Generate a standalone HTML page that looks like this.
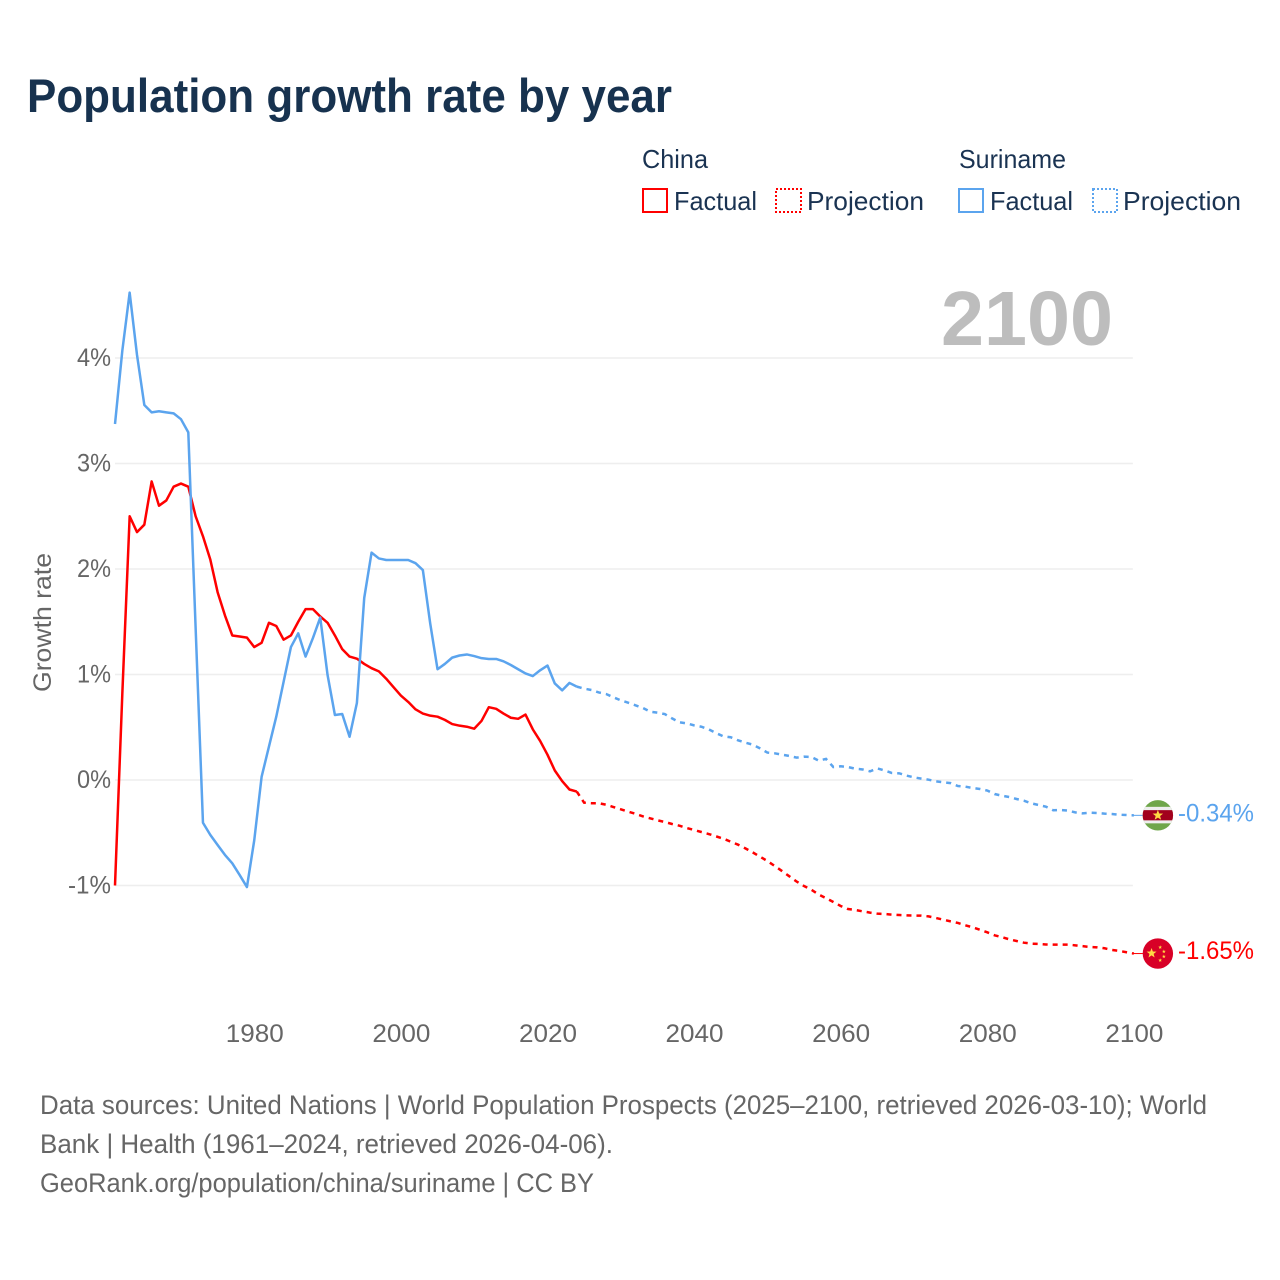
<!DOCTYPE html>
<html lang="en">
<head>
<meta charset="utf-8">
<title>Population growth rate by year</title>
<style>
html,body{margin:0;padding:0;background:#fff;width:1280px;height:1280px;overflow:hidden}
svg{display:block;font-family:"Liberation Sans",sans-serif}
</style>
</head>
<body>
<svg id="chart" xmlns="http://www.w3.org/2000/svg" width="1280" height="1280" viewBox="0 0 1280 1280">
  <defs>
    <clipPath id="flag-clip"><circle cx="0" cy="0" r="15.2"></circle></clipPath>
  </defs>
  <rect x="0" y="0" width="1280" height="1280" fill="#ffffff"></rect>
  <text x="27" y="112" font-size="47" font-weight="700" fill="#17324f" textLength="645" lengthAdjust="spacingAndGlyphs">Population growth rate by year</text>

  <g font-size="26" fill="#1a3352">
    <text x="642" y="168" textLength="66" lengthAdjust="spacingAndGlyphs">China</text>
    <text x="959" y="168" textLength="107" lengthAdjust="spacingAndGlyphs">Suriname</text>
    <g>
      <rect x="643" y="189" width="24" height="23" fill="none" stroke="#ff0000" stroke-width="2"></rect>
      <text x="674" y="210" textLength="83" lengthAdjust="spacingAndGlyphs">Factual</text>
    </g>
    <g>
      <rect x="776" y="189" width="25" height="23" fill="none" stroke="#ff0000" stroke-width="2" stroke-dasharray="2 2"></rect>
      <text x="807" y="210" textLength="117" lengthAdjust="spacingAndGlyphs">Projection</text>
    </g>
    <g>
      <rect x="959" y="189" width="24" height="23" fill="none" stroke="#5ba4ee" stroke-width="2"></rect>
      <text x="990" y="210" textLength="83" lengthAdjust="spacingAndGlyphs">Factual</text>
    </g>
    <g>
      <rect x="1093" y="189" width="24" height="23" fill="none" stroke="#5ba4ee" stroke-width="2" stroke-dasharray="2 2"></rect>
      <text x="1123" y="210" textLength="118" lengthAdjust="spacingAndGlyphs">Projection</text>
    </g>
  </g>

  <g id="grid-layer"></g>
  <g id="y-tick-layer"></g>
  <g id="x-tick-layer"></g>
  <text transform="translate(51 622.5) rotate(-90)" text-anchor="middle" font-size="25" fill="#666666" textLength="139" lengthAdjust="spacingAndGlyphs">Growth rate</text>
  <text x="941" y="345" font-size="77" font-weight="700" fill="#bdbdbd" textLength="172" lengthAdjust="spacingAndGlyphs">2100</text>

  <g id="series-layer"></g>

  <g id="flag-suriname">
    <g clip-path="url(#flag-clip)">
      <rect x="-16" y="-16" width="32" height="32" fill="#6fa64a"></rect>
      <rect x="-16" y="-8.5" width="32" height="16.5" fill="#eeeeee"></rect>
      <rect x="-16" y="-5.2" width="32" height="10.2" fill="#a2001d"></rect>
    </g>
    <polygon id="star-suriname" fill="#ffda44"></polygon>
  </g>
  <g id="flag-china">
    <circle cx="0" cy="0" r="15.2" fill="#d80027"></circle>
    <polygon id="star-china-large" fill="#ffda44"></polygon>
    <polygon id="star-china-1" fill="#ffda44"></polygon>
    <polygon id="star-china-2" fill="#ffda44"></polygon>
    <polygon id="star-china-3" fill="#ffda44"></polygon>
    <polygon id="star-china-4" fill="#ffda44"></polygon>
  </g>
  <text id="end-label-suriname" x="1178" font-size="25" fill="#5ba4ee" textLength="76" lengthAdjust="spacingAndGlyphs"></text>
  <text id="end-label-china" x="1178" font-size="25" fill="#ff0000" textLength="76" lengthAdjust="spacingAndGlyphs"></text>

  <g font-size="27" fill="#666666">
    <text x="40" y="1114" textLength="1167" lengthAdjust="spacingAndGlyphs">Data sources: United Nations | World Population Prospects (2025–2100, retrieved 2026-03-10); World</text>
    <text x="40" y="1153" textLength="573" lengthAdjust="spacingAndGlyphs">Bank | Health (1961–2024, retrieved 2026-04-06).</text>
    <text x="40" y="1192" textLength="554" lengthAdjust="spacingAndGlyphs">GeoRank.org/population/china/suriname | CC BY</text>
  </g>
</svg>
<script>
// Chart data
const firstFactualYear = 1961;
const firstProjectionYear = 2024;
const yTickValues = [-1, 0, 1, 2, 3, 4];
const xTickYears = [1980, 2000, 2020, 2040, 2060, 2080, 2100];
const endLabelSuriname = "-0.34%";
const endLabelChina = "-1.65%";

const chinaFactual = [-1.0,0.82,2.50,2.35,2.42,2.83,2.60,2.65,2.78,2.81,2.78,2.50,2.31,2.09,1.78,1.56,1.37,1.36,1.35,1.26,1.30,1.49,1.46,1.33,1.37,1.50,1.62,1.62,1.55,1.49,1.37,1.24,1.17,1.15,1.10,1.06,1.03,0.96,0.88,0.80,0.74,0.67,0.63,0.61,0.60,0.57,0.53,0.515,0.505,0.486,0.56,0.69,0.675,0.63,0.59,0.58,0.62,0.48,0.37,0.24,0.09,-0.01,-0.09,-0.11];

const chinaProjection = [-0.11,-0.215,-0.22,-0.22,-0.234,-0.256,-0.278,-0.30,-0.32,-0.344,-0.363,-0.382,-0.398,-0.417,-0.433,-0.455,-0.474,-0.493,-0.512,-0.534,-0.556,-0.585,-0.613,-0.648,-0.686,-0.727,-0.768,-0.815,-0.863,-0.913,-0.963,-1.005,-1.04,-1.085,-1.12,-1.156,-1.194,-1.223,-1.232,-1.245,-1.257,-1.267,-1.27,-1.276,-1.28,-1.283,-1.285,-1.286,-1.293,-1.308,-1.324,-1.34,-1.355,-1.377,-1.396,-1.42,-1.444,-1.472,-1.49,-1.51,-1.526,-1.542,-1.551,-1.554,-1.559,-1.56,-1.56,-1.56,-1.567,-1.575,-1.583,-1.586,-1.595,-1.611,-1.62,-1.633,-1.645];

const surinameFactual = [3.375,4.07,4.62,4.03,3.555,3.485,3.495,3.485,3.475,3.42,3.295,1.44,-0.405,-0.52,-0.616,-0.71,-0.79,-0.90,-1.015,-0.57,0.03,0.316,0.60,0.93,1.26,1.39,1.17,1.345,1.54,0.995,0.616,0.626,0.41,0.73,1.725,2.155,2.10,2.085,2.085,2.085,2.085,2.055,1.99,1.485,1.05,1.10,1.16,1.18,1.19,1.175,1.155,1.147,1.147,1.125,1.09,1.05,1.01,0.985,1.04,1.085,0.915,0.85,0.92,0.885];

const surinameProjection = [0.885,0.866,0.853,0.83,0.815,0.784,0.755,0.733,0.708,0.683,0.648,0.638,0.625,0.584,0.547,0.537,0.518,0.505,0.48,0.445,0.414,0.405,0.376,0.354,0.335,0.30,0.26,0.253,0.24,0.228,0.212,0.221,0.218,0.184,0.20,0.123,0.13,0.123,0.107,0.10,0.082,0.11,0.09,0.066,0.063,0.041,0.025,0.013,0.003,-0.013,-0.022,-0.03,-0.057,-0.063,-0.076,-0.085,-0.10,-0.133,-0.149,-0.161,-0.18,-0.196,-0.221,-0.237,-0.253,-0.287,-0.284,-0.29,-0.307,-0.316,-0.31,-0.313,-0.319,-0.322,-0.329,-0.332,-0.335];

// Axis functions
function xScale(year) { return 115 + (year - 1961) * 7.33; }
function yScale(value) { return 780 - value * 105.5; }

const SVG_NS = "http://www.w3.org/2000/svg";
function make(tag, parent) {
  const el = document.createElementNS(SVG_NS, tag);
  parent.appendChild(el);
  return el;
}
function pathFrom(values, startYear) {
  return values.map(function (v, i) {
    return (i === 0 ? "M" : "L") + xScale(startYear + i).toFixed(2) + " " + yScale(v).toFixed(2);
  }).join(" ");
}
function starPoints(cx, cy, r) {
  const pts = [];
  for (let i = 0; i < 10; i++) {
    const rad = i % 2 === 0 ? r : r * 0.42;
    const a = -Math.PI / 2 + i * Math.PI / 5;
    pts.push((cx + rad * Math.cos(a)).toFixed(2) + "," + (cy + rad * Math.sin(a)).toFixed(2));
  }
  return pts.join(" ");
}

// Gridlines and y ticks
const gridLayer = document.getElementById("grid-layer");
const yTickLayer = document.getElementById("y-tick-layer");
yTickValues.forEach(function (v) {
  const line = make("line", gridLayer);
  
  
  line.setAttribute("x1", 115);
  line.setAttribute("x2", xScale(2100) - 1);
  line.setAttribute("y1", yScale(v));
  line.setAttribute("y2", yScale(v));
  line.setAttribute("stroke", "#eeeeee");
  line.setAttribute("stroke-width", "1.5");

  const label = make("text", yTickLayer);
  
  
  label.setAttribute("x", 111);
  label.setAttribute("y", yScale(v) + 8);
  label.setAttribute("text-anchor", "end");
  label.setAttribute("font-size", "25");
  label.setAttribute("fill", "#666666");
  label.setAttribute("textLength", v < 0 ? 43 : 34);
  label.setAttribute("lengthAdjust", "spacingAndGlyphs");
  label.textContent = v + "%";
});

// X ticks
const xTickLayer = document.getElementById("x-tick-layer");
xTickYears.forEach(function (year) {
  const label = make("text", xTickLayer);
  
  
  label.setAttribute("x", xScale(year) + 0.5);
  label.setAttribute("y", 1042);
  label.setAttribute("text-anchor", "middle");
  label.setAttribute("font-size", "25");
  label.setAttribute("fill", "#666666");
  label.setAttribute("textLength", 58);
  label.setAttribute("lengthAdjust", "spacingAndGlyphs");
  label.textContent = year;
});

// Series
const seriesLayer = document.getElementById("series-layer");
const RED = "#ff0000";
const BLUE = "#5ba4ee";

const chinaProjLine = make("path", seriesLayer);


chinaProjLine.setAttribute("d", pathFrom(chinaProjection, firstProjectionYear));
chinaProjLine.setAttribute("fill", "none");
chinaProjLine.setAttribute("stroke", RED);
chinaProjLine.setAttribute("stroke-width", "2.5");
chinaProjLine.setAttribute("stroke-dasharray", "5 5");

const chinaLine = make("path", seriesLayer);


chinaLine.setAttribute("d", pathFrom(chinaFactual, firstFactualYear));
chinaLine.setAttribute("fill", "none");
chinaLine.setAttribute("stroke", RED);
chinaLine.setAttribute("stroke-width", "2.5");
chinaLine.setAttribute("stroke-linejoin", "round");

const surinameProjLine = make("path", seriesLayer);


surinameProjLine.setAttribute("d", pathFrom(surinameProjection, firstProjectionYear));
surinameProjLine.setAttribute("fill", "none");
surinameProjLine.setAttribute("stroke", BLUE);
surinameProjLine.setAttribute("stroke-width", "2.5");
surinameProjLine.setAttribute("stroke-dasharray", "5 5");

const surinameLine = make("path", seriesLayer);


surinameLine.setAttribute("d", pathFrom(surinameFactual, firstFactualYear));
surinameLine.setAttribute("fill", "none");
surinameLine.setAttribute("stroke", BLUE);
surinameLine.setAttribute("stroke-width", "2.5");
surinameLine.setAttribute("stroke-linejoin", "round");

// End markers follow the final values
const flagX = xScale(2100) + 24;
const surinameEnd = yScale(surinameProjection[surinameProjection.length - 1]);
const chinaEnd = yScale(chinaProjection[chinaProjection.length - 1]);

const chinaConnector = make("line", seriesLayer);


chinaConnector.setAttribute("x1", xScale(2100) - 2);
chinaConnector.setAttribute("x2", flagX - 15);
chinaConnector.setAttribute("y1", chinaEnd);
chinaConnector.setAttribute("y2", chinaEnd);
chinaConnector.setAttribute("stroke", RED);
chinaConnector.setAttribute("stroke-width", "1");

const surinameConnector = make("line", seriesLayer);


surinameConnector.setAttribute("x1", xScale(2100) - 2);
surinameConnector.setAttribute("x2", flagX - 15);
surinameConnector.setAttribute("y1", surinameEnd);
surinameConnector.setAttribute("y2", surinameEnd);
surinameConnector.setAttribute("stroke", BLUE);
surinameConnector.setAttribute("stroke-width", "1");

document.getElementById("flag-suriname").setAttribute("transform", "translate(" + flagX + " " + surinameEnd + ")");
document.getElementById("flag-china").setAttribute("transform", "translate(" + flagX + " " + chinaEnd + ")");
document.getElementById("star-suriname").setAttribute("points", starPoints(0, 0, 5.5));
document.getElementById("star-china-large").setAttribute("points", starPoints(-6.3, -0.3, 5.2));
document.getElementById("star-china-1").setAttribute("points", starPoints(2.3, -6.3, 2));
document.getElementById("star-china-2").setAttribute("points", starPoints(6, -2, 2));
document.getElementById("star-china-3").setAttribute("points", starPoints(6, 3, 2));
document.getElementById("star-china-4").setAttribute("points", starPoints(2.3, 6.7, 2));

const labelSuriname = document.getElementById("end-label-suriname");
labelSuriname.setAttribute("y", surinameEnd + 6);
labelSuriname.textContent = endLabelSuriname;
const labelChina = document.getElementById("end-label-china");
labelChina.setAttribute("y", chinaEnd + 5.5);
labelChina.textContent = endLabelChina;
</script>
</body>
</html>
